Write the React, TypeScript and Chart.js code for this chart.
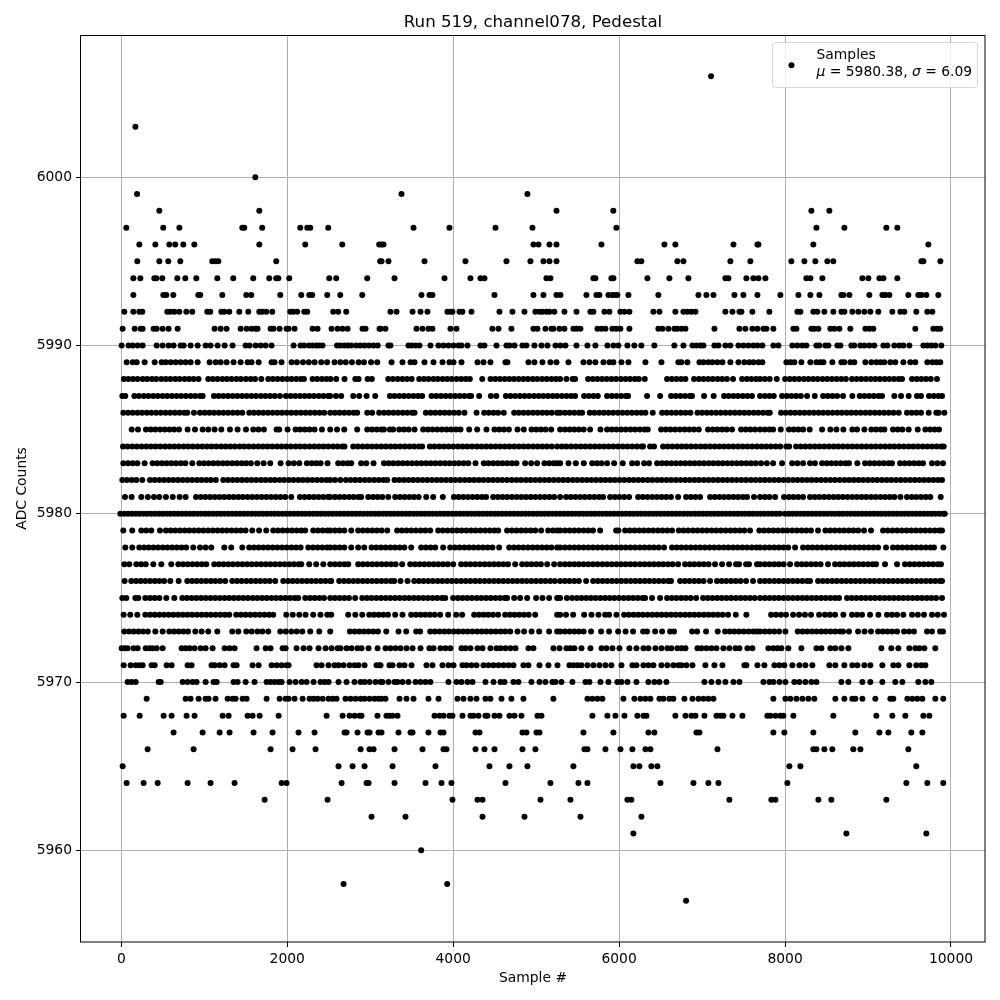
import React, { useEffect, useRef } from "react";
import { Chart, registerables } from "chart.js";

Chart.register(...registerables);

const TITLE = "Run 519, channel078, Pedestal";
const X_LABEL = "Sample #";
const Y_LABEL = "ADC Counts";
const X_TICKS = [0, 2000, 4000, 6000, 8000, 10000];
const Y_TICKS = [5960, 5970, 5980, 5990, 6000];

const s6006 = [7108];
const s6003 = [170];
const s6000 = [1615];
const s5999 = [190, 3377, 4895];
const s5998 = [458, 1663, 5245, 5930, 8317, 8534];
const s5997 = [60, 505, 700, 1458, 1482, 1698, 2157, 2241, 2277, 2494, 3522, 3955, 4510, 4955, 5967, 8378, 8715, 9221, 9353];
const s5996 = [217, 410, 578, 650, 747, 880, 1663, 2217, 2663, 3108, 3136, 3160, 4967, 5028, 5160, 5245, 5787, 6546, 6678, 7378, 7667, 7679, 8341, 9727];
const s5995 = [193, 458, 566, 711, 1096, 1133, 1169, 1867, 3120, 3136, 3220, 3654, 4148, 4642, 4931, 5088, 5160, 5245, 6220, 6268, 6702, 6775, 7341, 7582, 8076, 8233, 8365, 8510, 8582, 9643, 9667, 9872];
const s5994 = [145, 229, 398, 422, 494, 675, 771, 904, 1157, 1349, 1590, 1783, 1867, 1892, 2024, 2506, 2590, 2964, 3293, 3895, 4208, 4329, 4377, 5124, 5172, 5690, 5714, 5907, 5931, 6341, 6606, 6835, 7281, 7317, 7534, 7618, 7679, 7763, 8257, 8305, 8450, 8932, 9004, 9137, 9185, 9353];
const s5993 = [145, 506, 542, 627, 928, 952, 1217, 1506, 1566, 1916, 2169, 2265, 2301, 2482, 2639, 2904, 3618, 3714, 3750, 4498, 4967, 5088, 5245, 5293, 5606, 5726, 5762, 5871, 5919, 5955, 5979, 6112, 6473, 6956, 7052, 7137, 7390, 7498, 7667, 7944, 8161, 8305, 8414, 8679, 8703, 8775, 9016, 9173, 9209, 9257, 9486, 9606, 9643, 9703, 9847];
const s5992 = [36, 145, 217, 253, 554, 590, 639, 699, 783, 855, 1036, 1072, 1205, 1241, 1301, 1422, 1530, 1663, 1699, 1747, 1819, 2036, 2072, 2120, 2205, 2241, 2554, 2614, 2711, 3244, 3317, 3510, 3606, 3690, 3931, 3967, 3991, 4076, 4112, 4220, 4558, 4714, 4859, 4991, 5040, 5076, 5124, 5160, 5220, 5341, 5486, 5654, 5690, 5823, 5883, 6015, 6064, 6124, 6413, 6486, 6678, 6775, 6823, 6872, 6920, 7281, 7366, 7450, 7474, 7606, 7811, 8149, 8185, 8341, 8389, 8474, 8582, 8679, 8715, 8811, 8883, 8956, 9028, 9124, 9293, 9390, 9438, 9582, 9715, 9775];
const s5991 = [16, 161, 233, 257, 390, 426, 498, 570, 679, 1124, 1197, 1269, 1438, 1510, 1570, 1618, 1642, 1799, 1835, 1908, 1992, 2016, 2088, 2305, 2365, 2534, 2606, 2667, 2727, 2907, 2944, 3112, 3124, 3184, 3558, 3630, 3702, 3750, 3967, 4040, 4473, 4546, 4702, 4967, 5015, 5112, 5184, 5208, 5281, 5341, 5449, 5486, 5534, 5739, 5787, 5835, 5919, 5967, 6015, 6124, 6473, 6522, 6594, 6666, 6702, 6751, 6799, 7149, 7450, 7522, 7606, 7667, 7739, 7775, 7859, 8100, 8137, 8317, 8353, 8402, 8546, 8594, 8655, 8787, 8968, 9016, 9064, 9570, 9787, 9835, 9871];
const s5990 = [4, 88, 137, 197, 257, 426, 498, 570, 630, 715, 751, 835, 920, 1016, 1076, 1161, 1245, 1341, 1498, 1546, 1618, 1679, 1739, 1811, 2076, 2160, 2205, 2265, 2305, 2350, 2385, 2425, 2600, 2640, 2690, 2730, 2770, 2830, 2880, 2930, 2985, 3040, 3090, 3220, 3244, 3461, 3498, 3546, 3594, 3726, 3823, 3883, 3943, 4004, 4064, 4100, 4172, 4329, 4377, 4522, 4642, 4678, 4739, 4835, 4883, 4979, 5064, 5136, 5233, 5293, 5353, 5486, 5618, 5714, 5859, 5931, 5991, 6100, 6184, 6268, 6425, 6666, 6775, 6884, 6932, 6980, 7016, 7149, 7197, 7281, 7341, 7438, 7498, 7558, 7618, 7667, 7727, 7859, 7920, 8088, 8149, 8209, 8257, 8378, 8414, 8486, 8522, 8631, 8667, 8799, 8835, 8908, 8956, 9016, 9076, 9185, 9233, 9317, 9378, 9426, 9498, 9667, 9715, 9763, 9811, 9883];
const s5989 = [64, 137, 185, 281, 402, 486, 534, 594, 654, 715, 775, 835, 920, 1064, 1137, 1197, 1269, 1353, 1438, 1522, 1570, 1655, 1811, 1847, 1931, 2052, 2116, 2190, 2260, 2330, 2410, 2480, 2570, 2640, 2705, 2780, 2860, 2925, 3010, 3085, 3257, 3389, 3486, 3534, 3654, 3763, 3871, 3955, 4004, 4100, 4293, 4365, 4449, 4630, 4654, 4907, 4979, 5076, 5172, 5245, 5389, 5570, 5642, 5714, 5811, 5883, 5931, 6028, 6112, 6317, 6510, 6714, 6751, 6823, 6968, 7016, 7076, 7125, 7185, 7245, 7341, 7438, 7510, 7570, 7618, 7679, 7727, 8016, 8064, 8112, 8197, 8305, 8378, 8426, 8462, 8570, 8679, 8715, 8787, 8835, 8968, 9040, 9100, 9149, 9197, 9269, 9329, 9426, 9510, 9570, 9715, 9775, 9823, 9871];
const s5988 = [31, 84, 141, 196, 258, 312, 369, 421, 482, 536, 591, 649, 702, 763, 817, 872, 931, 1048, 1103, 1159, 1218, 1273, 1329, 1388, 1441, 1502, 1559, 1612, 1687, 1771, 1826, 1883, 1941, 1998, 2052, 2109, 2163, 2201, 2305, 2361, 2418, 2472, 2521, 2590, 2690, 2820, 2860, 2969, 3020, 3217, 3272, 3331, 3388, 3443, 3500, 3590, 3647, 3702, 3761, 3814, 3873, 3928, 3982, 4041, 4097, 4152, 4201, 4350, 4450, 4508, 4563, 4621, 4677, 4733, 4789, 4846, 4901, 4959, 5013, 5071, 5126, 5184, 5238, 5289, 5365, 5440, 5470, 5626, 5682, 5739, 5795, 5851, 5908, 5963, 6021, 6077, 6132, 6189, 6237, 6309, 6578, 6635, 6691, 6747, 6799, 6903, 6961, 7016, 7074, 7129, 7187, 7242, 7299, 7373, 7482, 7539, 7594, 7651, 7699, 7756, 7815, 7900, 8000, 8056, 8113, 8168, 8227, 8282, 8339, 8393, 8452, 8508, 8564, 8621, 8677, 8733, 8807, 8863, 8919, 8976, 9032, 9088, 9144, 9201, 9257, 9313, 9369, 9410, 9530, 9587, 9643, 9699, 9756, 9831];
const s5987 = [12, 48, 157, 213, 271, 326, 384, 438, 497, 552, 609, 666, 721, 779, 836, 891, 948, 980, 1116, 1173, 1229, 1286, 1342, 1399, 1455, 1511, 1568, 1624, 1681, 1737, 1793, 1850, 1912, 1984, 2041, 2097, 2153, 2209, 2266, 2322, 2379, 2435, 2491, 2518, 2587, 2650, 2795, 2867, 2956, 3060, 3237, 3293, 3351, 3408, 3464, 3521, 3577, 3626, 3739, 3796, 3852, 3909, 3965, 4022, 4078, 4135, 4191, 4217, 4313, 4454, 4520, 4635, 4691, 4748, 4804, 4861, 4917, 4974, 5030, 5087, 5143, 5200, 5253, 5310, 5367, 5423, 5470, 5578, 5634, 5691, 5743, 5855, 5912, 5968, 6025, 6081, 6108, 6337, 6494, 6626, 6682, 6739, 6795, 6852, 6879, 7024, 7140, 7265, 7321, 7378, 7434, 7491, 7547, 7602, 7699, 7756, 7812, 7864, 7964, 8021, 8077, 8134, 8190, 8265, 8358, 8458, 8515, 8571, 8628, 8699, 8811, 8900, 8957, 9013, 9070, 9126, 9169, 9317, 9398, 9490, 9590, 9639, 9735, 9792, 9848, 9892];
const s5986 = [24, 81, 137, 194, 250, 307, 363, 420, 476, 533, 589, 646, 702, 759, 795, 875, 948, 1005, 1061, 1118, 1174, 1231, 1287, 1344, 1400, 1458, 1542, 1598, 1655, 1711, 1768, 1824, 1881, 1937, 1994, 2050, 2107, 2163, 2220, 2276, 2333, 2389, 2446, 2518, 2575, 2631, 2688, 2744, 2801, 2843, 2964, 3024, 3108, 3165, 3221, 3278, 3334, 3391, 3447, 3504, 3534, 3671, 3727, 3784, 3840, 3897, 3953, 4010, 4066, 4136, 4281, 4373, 4429, 4486, 4542, 4610, 4735, 4791, 4848, 4904, 4961, 5017, 5074, 5130, 5187, 5253, 5289, 5346, 5402, 5459, 5515, 5554, 5646, 5702, 5759, 5815, 5872, 5928, 5985, 6041, 6098, 6154, 6211, 6267, 6317, 6405, 6518, 6574, 6631, 6687, 6744, 6800, 6859, 6944, 7000, 7057, 7113, 7170, 7226, 7283, 7339, 7396, 7452, 7509, 7565, 7622, 7678, 7735, 7791, 7816, 7952, 8008, 8065, 8121, 8178, 8234, 8291, 8347, 8404, 8460, 8517, 8573, 8630, 8686, 8743, 8799, 8856, 8912, 8969, 9025, 9082, 9138, 9195, 9251, 9308, 9370, 9470, 9526, 9583, 9639, 9731, 9823, 9851, 9920];
const s5985 = [125, 201, 297, 354, 410, 467, 523, 580, 636, 695, 799, 888, 980, 1048, 1124, 1205, 1309, 1401, 1502, 1590, 1652, 1719, 1871, 1903, 2004, 2100, 2156, 2213, 2269, 2329, 2418, 2518, 2600, 2687, 2843, 2964, 3021, 3077, 3134, 3165, 3237, 3277, 3350, 3407, 3463, 3534, 3638, 3695, 3751, 3808, 3864, 3921, 3977, 4034, 4088, 4193, 4289, 4401, 4498, 4555, 4611, 4671, 4775, 4851, 4944, 5001, 5057, 5114, 5181, 5289, 5346, 5402, 5459, 5515, 5572, 5650, 5775, 5855, 5912, 5968, 6025, 6081, 6138, 6194, 6251, 6307, 6345, 6506, 6563, 6619, 6676, 6732, 6789, 6845, 6902, 6960, 7072, 7129, 7185, 7242, 7298, 7361, 7470, 7527, 7583, 7640, 7699, 7756, 7812, 7856, 7948, 8048, 8105, 8161, 8218, 8297, 8446, 8546, 8619, 8703, 8811, 8868, 8956, 9040, 9097, 9153, 9197, 9301, 9358, 9414, 9490, 9599, 9691, 9748, 9804, 9856];
const s5984 = [20, 75, 132, 188, 245, 302, 356, 413, 469, 526, 581, 638, 694, 751, 806, 863, 919, 976, 1031, 1088, 1144, 1201, 1256, 1313, 1369, 1426, 1481, 1538, 1594, 1651, 1706, 1763, 1819, 1876, 1931, 1988, 2044, 2101, 2156, 2213, 2269, 2326, 2381, 2438, 2494, 2551, 2606, 2663, 2690, 2795, 2851, 2908, 2964, 3021, 3077, 3134, 3190, 3247, 3303, 3360, 3416, 3473, 3529, 3586, 3626, 3719, 3775, 3832, 3888, 3945, 4001, 4058, 4114, 4171, 4227, 4284, 4340, 4397, 4453, 4510, 4566, 4623, 4679, 4736, 4792, 4849, 4905, 4962, 5018, 5075, 5131, 5188, 5253, 5310, 5366, 5423, 5479, 5536, 5592, 5649, 5705, 5762, 5818, 5875, 5931, 5988, 6044, 6101, 6157, 6214, 6270, 6289, 6373, 6421, 6530, 6586, 6643, 6699, 6756, 6812, 6869, 6925, 6982, 7038, 7095, 7151, 7208, 7264, 7321, 7377, 7434, 7490, 7547, 7603, 7660, 7716, 7773, 7829, 7886, 7942, 8015, 8050, 8133, 8189, 8246, 8302, 8359, 8415, 8472, 8528, 8585, 8641, 8698, 8754, 8811, 8867, 8924, 8980, 9037, 9093, 9150, 9206, 9263, 9319, 9376, 9432, 9489, 9545, 9602, 9658, 9715, 9771, 9828, 9884, 9912];
const s5983 = [24, 81, 137, 194, 281, 377, 433, 490, 546, 603, 659, 716, 772, 855, 940, 997, 1053, 1110, 1166, 1223, 1279, 1336, 1392, 1449, 1505, 1562, 1639, 1715, 1795, 1920, 2016, 2080, 2145, 2237, 2294, 2350, 2402, 2486, 2614, 2671, 2727, 2771, 2891, 2952, 3040, 3165, 3222, 3278, 3335, 3391, 3448, 3504, 3561, 3617, 3674, 3730, 3787, 3843, 3900, 3956, 4013, 4069, 4126, 4182, 4269, 4369, 4426, 4482, 4539, 4595, 4652, 4708, 4763, 4867, 4940, 5012, 5100, 5157, 5213, 5253, 5289, 5390, 5478, 5574, 5675, 5732, 5788, 5855, 5940, 6044, 6156, 6217, 6301, 6361, 6458, 6515, 6571, 6628, 6684, 6741, 6797, 6854, 6910, 6967, 7023, 7080, 7136, 7193, 7249, 7306, 7362, 7419, 7475, 7532, 7588, 7645, 7710, 7780, 7856, 7964, 8085, 8150, 8217, 8301, 8361, 8446, 8503, 8559, 8616, 8672, 8729, 8771, 8872, 8964, 9021, 9077, 9134, 9190, 9247, 9289, 9386, 9443, 9499, 9556, 9612, 9663, 9771, 9837, 9904];
const s5982 = [12, 68, 125, 181, 253, 345, 401, 458, 514, 571, 627, 684, 740, 797, 853, 910, 966, 1023, 1079, 1140, 1229, 1285, 1342, 1398, 1455, 1511, 1568, 1624, 1681, 1737, 1794, 1850, 1907, 1963, 2020, 2076, 2133, 2189, 2246, 2302, 2359, 2415, 2472, 2518, 2575, 2640, 2707, 2763, 2820, 2876, 2933, 2989, 3046, 3102, 3159, 3205, 3293, 3349, 3406, 3462, 3519, 3575, 3632, 3688, 3745, 3801, 3858, 3914, 3971, 4027, 4084, 4140, 4197, 4253, 4310, 4366, 4423, 4479, 4536, 4592, 4649, 4705, 4762, 4818, 4875, 4931, 4988, 5044, 5101, 5157, 5214, 5270, 5327, 5383, 5440, 5496, 5553, 5609, 5666, 5722, 5779, 5835, 5892, 5948, 6005, 6061, 6118, 6174, 6231, 6287, 6344, 6400, 6457, 6513, 6570, 6626, 6683, 6739, 6796, 6852, 6909, 6965, 7022, 7078, 7135, 7191, 7248, 7304, 7361, 7417, 7474, 7530, 7587, 7643, 7699, 7755, 7812, 7868, 7925, 7981, 8038, 8094, 8151, 8207, 8264, 8320, 8377, 8433, 8490, 8546, 8603, 8659, 8716, 8772, 8829, 8885, 8942, 8998, 9055, 9111, 9168, 9224, 9281, 9337, 9394, 9450, 9507, 9563, 9620, 9676, 9733, 9789, 9846, 9892];
const s5981 = [44, 124, 241, 320, 394, 458, 538, 620, 703, 775, 900, 957, 1013, 1070, 1126, 1183, 1239, 1296, 1352, 1409, 1465, 1522, 1578, 1635, 1691, 1748, 1804, 1861, 1917, 1974, 2048, 2152, 2209, 2265, 2322, 2378, 2435, 2491, 2518, 2575, 2631, 2688, 2744, 2801, 2857, 2891, 2976, 3033, 3089, 3146, 3217, 3301, 3358, 3414, 3471, 3527, 3584, 3675, 3759, 3875, 4008, 4065, 4121, 4178, 4234, 4291, 4347, 4397, 4482, 4539, 4595, 4652, 4708, 4765, 4821, 4878, 4934, 4991, 5047, 5104, 5160, 5217, 5289, 5361, 5418, 5474, 5531, 5587, 5644, 5700, 5757, 5807, 5891, 5948, 6004, 6061, 6120, 6229, 6286, 6342, 6399, 6455, 6512, 6568, 6625, 6711, 6807, 6864, 6920, 6976, 7096, 7153, 7209, 7266, 7322, 7379, 7435, 7492, 7542, 7626, 7699, 7756, 7812, 7880, 7988, 8045, 8101, 8158, 8217, 8301, 8358, 8414, 8471, 8527, 8584, 8640, 8697, 8753, 8810, 8866, 8923, 8979, 9036, 9092, 9149, 9205, 9262, 9318, 9390, 9470, 9527, 9583, 9640, 9696, 9751, 9876];
const s5980 = [-12, 34, 81, 127, 174, 220, 267, 313, 360, 406, 453, 499, 546, 592, 639, 685, 732, 778, 825, 871, 918, 964, 1011, 1057, 1104, 1150, 1197, 1243, 1290, 1336, 1383, 1429, 1476, 1522, 1569, 1615, 1662, 1708, 1755, 1801, 1848, 1894, 1941, 1987, 2034, 2080, 2127, 2173, 2220, 2266, 2313, 2359, 2406, 2452, 2499, 2545, 2592, 2638, 2685, 2731, 2778, 2824, 2871, 2917, 2964, 3010, 3057, 3103, 3150, 3196, 3243, 3289, 3336, 3382, 3429, 3475, 3522, 3568, 3615, 3661, 3708, 3754, 3801, 3847, 3894, 3940, 3987, 4033, 4080, 4126, 4173, 4219, 4266, 4312, 4359, 4405, 4452, 4498, 4545, 4591, 4638, 4684, 4731, 4777, 4824, 4870, 4917, 4963, 5010, 5056, 5103, 5149, 5196, 5242, 5289, 5335, 5382, 5428, 5475, 5521, 5568, 5614, 5661, 5707, 5754, 5800, 5847, 5893, 5940, 5986, 6033, 6079, 6126, 6172, 6219, 6265, 6312, 6358, 6405, 6451, 6498, 6544, 6591, 6637, 6684, 6730, 6777, 6823, 6870, 6916, 6963, 7009, 7056, 7102, 7149, 7195, 7242, 7288, 7335, 7381, 7428, 7474, 7521, 7567, 7614, 7660, 7707, 7753, 7800, 7846, 7893, 7939, 8000, 8046, 8093, 8139, 8186, 8232, 8279, 8325, 8372, 8418, 8465, 8511, 8558, 8604, 8651, 8697, 8744, 8790, 8837, 8883, 8930, 8976, 9023, 9069, 9116, 9162, 9209, 9255, 9302, 9348, 9395, 9441, 9488, 9534, 9581, 9627, 9674, 9720, 9767, 9813, 9860, 9906, 9925];
const s5979 = [24, 132, 241, 300, 361, 466, 538, 594, 651, 707, 764, 820, 877, 933, 990, 1046, 1103, 1159, 1216, 1272, 1329, 1385, 1442, 1498, 1578, 1660, 1747, 1831, 1888, 1944, 2001, 2057, 2114, 2170, 2217, 2313, 2370, 2426, 2483, 2518, 2575, 2631, 2688, 2771, 2855, 2912, 2968, 3025, 3081, 3138, 3205, 3325, 3382, 3438, 3495, 3551, 3608, 3664, 3723, 3819, 3876, 3932, 3989, 4045, 4102, 4158, 4215, 4271, 4328, 4384, 4441, 4497, 4542, 4650, 4707, 4763, 4820, 4876, 4933, 4989, 5060, 5145, 5202, 5253, 5289, 5346, 5402, 5459, 5515, 5572, 5628, 5685, 5771, 5964, 5992, 6072, 6129, 6185, 6242, 6298, 6355, 6411, 6468, 6524, 6581, 6638, 6719, 6776, 6832, 6889, 6945, 7002, 7058, 7115, 7171, 7228, 7284, 7341, 7397, 7454, 7510, 7578, 7690, 7747, 7803, 7860, 7916, 7973, 8029, 8086, 8142, 8199, 8255, 8312, 8398, 8486, 8543, 8599, 8656, 8712, 8769, 8825, 8882, 8952, 9036, 9181, 9238, 9294, 9351, 9407, 9464, 9520, 9577, 9633, 9690, 9746, 9803, 9859, 9892];
const s5978 = [48, 132, 217, 274, 330, 387, 443, 500, 556, 613, 669, 726, 782, 867, 948, 1016, 1084, 1241, 1325, 1458, 1542, 1599, 1655, 1712, 1768, 1825, 1881, 1938, 1994, 2051, 2107, 2161, 2253, 2310, 2366, 2423, 2479, 2518, 2575, 2631, 2688, 2771, 2855, 2928, 3016, 3073, 3129, 3186, 3242, 3299, 3355, 3412, 3494, 3614, 3671, 3727, 3784, 3879, 3964, 4021, 4077, 4134, 4190, 4247, 4303, 4360, 4416, 4473, 4554, 4675, 4732, 4788, 4845, 4901, 4958, 5014, 5071, 5127, 5184, 5253, 5289, 5346, 5402, 5459, 5515, 5572, 5628, 5685, 5741, 5798, 5854, 5911, 5967, 6024, 6080, 6137, 6193, 6250, 6306, 6363, 6419, 6476, 6542, 6638, 6695, 6751, 6808, 6864, 6921, 6977, 7034, 7090, 7147, 7203, 7260, 7316, 7373, 7429, 7486, 7542, 7599, 7655, 7699, 7756, 7812, 7869, 7925, 7982, 8038, 8121, 8217, 8274, 8330, 8387, 8443, 8500, 8556, 8613, 8669, 8726, 8782, 8839, 8895, 8952, 9008, 9065, 9121, 9217, 9301, 9358, 9414, 9471, 9527, 9584, 9640, 9697, 9753, 9795, 9908];
const s5977 = [36, 96, 181, 238, 294, 386, 482, 602, 687, 744, 800, 857, 913, 970, 1024, 1120, 1177, 1233, 1290, 1346, 1403, 1459, 1516, 1572, 1629, 1685, 1742, 1798, 1855, 1911, 1968, 2024, 2081, 2137, 2169, 2265, 2349, 2434, 2518, 2575, 2631, 2688, 2735, 2855, 2912, 2968, 3025, 3081, 3138, 3194, 3251, 3307, 3385, 3482, 3539, 3595, 3652, 3708, 3765, 3821, 3878, 3934, 4000, 4096, 4153, 4209, 4266, 4322, 4379, 4435, 4492, 4548, 4605, 4661, 4747, 4831, 4888, 4944, 5001, 5057, 5133, 5217, 5289, 5346, 5402, 5459, 5515, 5572, 5628, 5685, 5741, 5798, 5854, 5911, 5967, 6024, 6080, 6137, 6193, 6250, 6306, 6363, 6419, 6476, 6532, 6589, 6645, 6711, 6795, 6852, 6908, 6965, 7021, 7078, 7156, 7241, 7325, 7409, 7446, 7530, 7566, 7662, 7699, 7756, 7812, 7869, 7925, 7982, 8060, 8145, 8202, 8258, 8315, 8371, 8428, 8518, 8603, 8660, 8716, 8773, 8829, 8886, 8942, 8999, 9055, 9097, 9205, 9350, 9446, 9503, 9559, 9616, 9672, 9729, 9785, 9842, 9880];
const s5976 = [40, 120, 177, 233, 290, 346, 403, 459, 516, 590, 691, 795, 852, 908, 965, 1021, 1078, 1134, 1191, 1253, 1337, 1394, 1450, 1507, 1563, 1620, 1676, 1733, 1789, 1855, 1952, 2009, 2065, 2122, 2178, 2235, 2291, 2348, 2404, 2461, 2518, 2530, 2626, 2683, 2739, 2796, 2852, 2909, 2965, 3022, 3078, 3135, 3191, 3248, 3289, 3365, 3450, 3530, 3587, 3643, 3700, 3756, 3813, 3869, 3926, 3982, 4039, 4095, 4152, 4208, 4265, 4321, 4378, 4434, 4491, 4547, 4604, 4660, 4717, 4773, 4830, 4886, 4943, 4999, 5056, 5112, 5169, 5225, 5289, 5346, 5402, 5459, 5515, 5602, 5687, 5744, 5800, 5857, 5913, 5970, 6026, 6083, 6139, 6196, 6252, 6309, 6365, 6422, 6478, 6535, 6591, 6626, 6735, 6792, 6848, 6905, 6961, 7018, 7096, 7180, 7237, 7293, 7350, 7406, 7463, 7530, 7614, 7699, 7756, 7812, 7869, 7925, 7982, 8038, 8095, 8151, 8208, 8264, 8301, 8398, 8455, 8511, 8568, 8624, 8681, 8737, 8794, 8850, 8907, 8963, 9020, 9076, 9133, 9189, 9246, 9302, 9359, 9415, 9472, 9528, 9585, 9641, 9698, 9754, 9811, 9867, 9892];
const s5975 = [12, 60, 169, 205, 289, 346, 402, 459, 542, 639, 735, 792, 848, 905, 961, 1018, 1074, 1131, 1187, 1244, 1300, 1357, 1413, 1470, 1526, 1583, 1639, 1696, 1752, 1809, 1865, 1922, 1978, 2035, 2091, 2132, 2217, 2274, 2330, 2387, 2443, 2518, 2575, 2631, 2688, 2744, 2819, 2904, 2961, 3017, 3074, 3130, 3187, 3243, 3300, 3356, 3413, 3469, 3526, 3582, 3639, 3695, 3752, 3808, 3865, 3904, 4000, 4057, 4113, 4170, 4226, 4283, 4339, 4396, 4452, 4509, 4565, 4622, 4650, 4735, 4807, 4891, 5000, 5076, 5156, 5253, 5289, 5370, 5434, 5491, 5547, 5604, 5660, 5717, 5773, 5830, 5886, 5943, 5999, 6056, 6112, 6169, 6225, 6282, 6313, 6397, 6494, 6578, 6635, 6691, 6748, 6804, 6861, 6928, 7012, 7069, 7125, 7182, 7238, 7295, 7351, 7408, 7464, 7521, 7577, 7634, 7699, 7756, 7812, 7869, 7925, 7982, 8038, 8095, 8151, 8208, 8264, 8321, 8377, 8434, 8490, 8547, 8603, 8651, 8747, 8804, 8860, 8917, 8973, 9030, 9086, 9143, 9199, 9256, 9312, 9369, 9425, 9482, 9538, 9595, 9651, 9708, 9764, 9821, 9892];
const s5974 = [28, 108, 193, 289, 346, 402, 459, 515, 572, 628, 685, 741, 798, 854, 911, 967, 1024, 1080, 1137, 1193, 1250, 1301, 1385, 1442, 1498, 1555, 1611, 1668, 1724, 1781, 1831, 1988, 2066, 2145, 2221, 2313, 2400, 2482, 2530, 2735, 2820, 2904, 2988, 3045, 3101, 3158, 3214, 3301, 3389, 3494, 3551, 3607, 3664, 3720, 3777, 3843, 3940, 4036, 4108, 4253, 4310, 4366, 4423, 4479, 4542, 4626, 4683, 4739, 4796, 4852, 4909, 4988, 5253, 5289, 5360, 5446, 5578, 5667, 5751, 5831, 5879, 5968, 6060, 6117, 6173, 6230, 6286, 6343, 6399, 6456, 6512, 6569, 6625, 6682, 6738, 6795, 6851, 6908, 6964, 7021, 7077, 7134, 7190, 7247, 7313, 7406, 7534, 7832, 7890, 7950, 8012, 8097, 8170, 8240, 8313, 8410, 8480, 8540, 8603, 8703, 8807, 8868, 8928, 9024, 9125, 9229, 9290, 9350, 9426, 9530, 9600, 9675, 9771, 9840, 9916];
const s5973 = [36, 93, 149, 206, 262, 319, 410, 498, 578, 635, 691, 748, 804, 892, 968, 1048, 1157, 1337, 1410, 1506, 1571, 1640, 1700, 1771, 1916, 1983, 2050, 2115, 2181, 2277, 2386, 2518, 2755, 2812, 2868, 2925, 2981, 3038, 3094, 3193, 3341, 3434, 3554, 3602, 3723, 3780, 3836, 3893, 3949, 4006, 4062, 4119, 4175, 4232, 4288, 4345, 4401, 4458, 4514, 4571, 4627, 4687, 4775, 4855, 4945, 5036, 5156, 5253, 5289, 5346, 5402, 5459, 5515, 5572, 5662, 5783, 5879, 5988, 6078, 6168, 6289, 6337, 6434, 6518, 6614, 6662, 6879, 6940, 7048, 7189, 7277, 7334, 7390, 7447, 7503, 7560, 7616, 7662, 7699, 7756, 7812, 7869, 7928, 8004, 8153, 8210, 8266, 8323, 8379, 8436, 8492, 8549, 8605, 8662, 8699, 8771, 8880, 8958, 9036, 9121, 9178, 9234, 9291, 9350, 9434, 9494, 9554, 9711, 9771, 9868, 9904];
const s5972 = [4, 40, 76, 148, 197, 293, 341, 377, 426, 498, 727, 775, 823, 883, 956, 1016, 1100, 1245, 1305, 1365, 1630, 1739, 1799, 1944, 1980, 2112, 2197, 2269, 2377, 2462, 2534, 2606, 2642, 2715, 2775, 2847, 2895, 2980, 3088, 3184, 3244, 3305, 3365, 3437, 3510, 3606, 3714, 3763, 3847, 3907, 3967, 4100, 4148, 4208, 4293, 4353, 4449, 4522, 4570, 4630, 4690, 4751, 4907, 4967, 5208, 5281, 5365, 5413, 5461, 5546, 5654, 5787, 5847, 5919, 6004, 6124, 6209, 6293, 6353, 6437, 6510, 6582, 6630, 6702, 6751, 6799, 6944, 6992, 7052, 7112, 7173, 7257, 7329, 7402, 7450, 7546, 7606, 7799, 7859, 7908, 7956, 8040, 8197, 8378, 8438, 8546, 8606, 8679, 8763, 9161, 9281, 9366, 9498, 9570, 9618, 9679, 9811];
const s5971 = [28, 112, 173, 221, 257, 365, 402, 546, 606, 799, 847, 1088, 1124, 1185, 1245, 1353, 1390, 1582, 1655, 1811, 1871, 1932, 1992, 2016, 2353, 2414, 2498, 2570, 2618, 2679, 2751, 2811, 2859, 2932, 3076, 3112, 3124, 3232, 3269, 3353, 3413, 3498, 3678, 3750, 3871, 3943, 4004, 4112, 4160, 4220, 4281, 4365, 4425, 4486, 4546, 4606, 4666, 4726, 4847, 4907, 5040, 5148, 5257, 5401, 5449, 5498, 5546, 5618, 5690, 5763, 5835, 5907, 6028, 6160, 6209, 6293, 6353, 6413, 6510, 6582, 6654, 6714, 6751, 6811, 6884, 7040, 7149, 7245, 7510, 7534, 7667, 7751, 7872, 7932, 7992, 8088, 8173, 8245, 8329, 8534, 8606, 8715, 8811, 8872, 8956, 9028, 9173, 9305, 9366, 9498, 9582, 9643, 9691];
const s5970 = [76, 124, 173, 450, 474, 739, 799, 859, 907, 1016, 1112, 1149, 1353, 1401, 1498, 1606, 1751, 1799, 1847, 1896, 1932, 2028, 2100, 2173, 2233, 2317, 2401, 2450, 2498, 2618, 2715, 2811, 2884, 2932, 2992, 3064, 3124, 3148, 3220, 3293, 3329, 3389, 3461, 3546, 3606, 3666, 3726, 3943, 4040, 4100, 4172, 4233, 4389, 4486, 4570, 4618, 4726, 4787, 4943, 5040, 5112, 5196, 5233, 5305, 5437, 5594, 5642, 5775, 5871, 5979, 6028, 6100, 6209, 6353, 6425, 6486, 6570, 7028, 7112, 7197, 7281, 7378, 7450, 7739, 7811, 7859, 7932, 8004, 8112, 8173, 8245, 8317, 8378, 8679, 8763, 8932, 9028, 9173, 9329, 9414, 9606, 9691, 9763];
const s5969 = [305, 775, 835, 932, 1016, 1052, 1136, 1281, 1341, 1377, 1462, 1510, 1751, 1908, 1980, 2016, 2088, 2185, 2269, 2317, 2365, 2426, 2498, 2546, 2594, 2702, 2763, 2823, 2884, 2932, 2992, 3052, 3100, 3136, 3184, 3353, 3437, 3522, 3702, 3823, 4052, 4124, 4208, 4281, 4389, 4449, 4582, 4702, 4847, 5208, 5618, 5678, 5739, 5799, 6052, 6184, 6257, 6317, 6377, 6486, 6534, 6606, 6654, 6787, 6884, 6956, 7016, 7076, 7137, 7859, 8004, 8064, 8137, 8209, 8281, 8353, 8606, 8715, 8811, 8847, 8932, 9088, 9269, 9305, 9474, 9534, 9594, 9655, 9811, 9907];
const s5968 = [28, 221, 510, 606, 787, 883, 1221, 1293, 1522, 1582, 1667, 1896, 2474, 2667, 2751, 2811, 2871, 2895, 3088, 3196, 3232, 3269, 3329, 3775, 3835, 3883, 3955, 3991, 4112, 4208, 4245, 4305, 4389, 4413, 4498, 4558, 4678, 4739, 4823, 5016, 5064, 5678, 5859, 5955, 6064, 6220, 6293, 6329, 6678, 6799, 6872, 6920, 7028, 7173, 7221, 7257, 7366, 7486, 7787, 7823, 7884, 7944, 7980, 8100, 8582, 9100, 9293, 9450, 9667, 9739];
const s5967 = [630, 980, 1185, 1305, 1594, 1823, 2136, 2329, 2691, 2715, 2847, 2968, 2992, 3100, 3136, 3341, 3486, 3510, 3702, 3847, 3883, 4269, 4317, 4835, 4883, 5004, 5040, 5570, 5931, 6353, 6425, 6932, 6968, 7859, 7992, 8341, 8847, 9137, 9245, 9522, 9655];
const s5966 = [317, 871, 1799, 2064, 2341, 2884, 2992, 3040, 3293, 3630, 3883, 3919, 4269, 4377, 4498, 4835, 4991, 5582, 5618, 5835, 6016, 6160, 6317, 6377, 7185, 8341, 8378, 8474, 8570, 8823, 8908, 9486];
const s5965 = [16, 2618, 2787, 2932, 3269, 3787, 4437, 4678, 4895, 5449, 6172, 6244, 6389, 6461, 8052, 8185, 9582];
const s5964 = [64, 269, 438, 799, 1076, 1365, 1932, 1992, 2655, 2956, 2980, 3293, 3666, 3859, 3979, 4630, 5172, 5510, 5618, 6498, 6896, 7076, 7197, 8028, 9462, 9715, 9907];
const s5963 = [1727, 2486, 3991, 4293, 4353, 5052, 5413, 6100, 6148, 7329, 7835, 7884, 8402, 8558, 9221];
const s5962 = [3016, 3425, 4353, 4859, 5534, 6269];
const s5961 = [6172, 8739, 9703];
const s5960 = [3614];
const s5958 = [2679, 3928];
const s5957 = [6807];

const LEVELS: [number, number[]][] = [
  [6006, s6006], [6003, s6003], [6000, s6000], [5999, s5999], [5998, s5998], [5997, s5997], [5996, s5996], [5995, s5995],
  [5994, s5994], [5993, s5993], [5992, s5992], [5991, s5991], [5990, s5990], [5989, s5989], [5988, s5988], [5987, s5987],
  [5986, s5986], [5985, s5985], [5984, s5984], [5983, s5983], [5982, s5982], [5981, s5981], [5980, s5980], [5979, s5979],
  [5978, s5978], [5977, s5977], [5976, s5976], [5975, s5975], [5974, s5974], [5973, s5973], [5972, s5972], [5971, s5971],
  [5970, s5970], [5969, s5969], [5968, s5968], [5967, s5967], [5966, s5966], [5965, s5965], [5964, s5964], [5963, s5963],
  [5962, s5962], [5961, s5961], [5960, s5960], [5958, s5958], [5957, s5957],
];

const FONT = '"DejaVu Sans"';

const framePlugin = {
  id: "frameAndLegend",
  afterDraw(chart: any) {
    const { ctx } = chart;
    ctx.save();
    ctx.strokeStyle = "#000";
    ctx.lineWidth = 1;
    ctx.strokeRect(80.5, 35.5, 904.5, 906.5);

    const bx = 772.5, by = 42.5, bw = 205, bh = 45, r = 3;
    ctx.beginPath();
    ctx.roundRect(bx, by, bw, bh, r);
    ctx.fillStyle = "rgba(255,255,255,0.8)";
    ctx.fill();
    ctx.strokeStyle = "rgba(204,204,204,0.8)";
    ctx.lineWidth = 1;
    ctx.stroke();

    ctx.fillStyle = "#000";
    ctx.beginPath();
    ctx.arc(791.5, 65.3, 3, 0, Math.PI * 2);
    ctx.fill();

    ctx.textBaseline = "alphabetic";
    ctx.textAlign = "left";
    ctx.font = `13.89px ${FONT}`;
    ctx.fillText("Samples", 816.5, 59);
    let x = 816.5;
    const parts: [string, boolean][] = [["μ", true], [" = 5980.38, ", false], ["σ", true], [" = 6.09", false]];
    for (const [t, it] of parts) {
      ctx.font = `${it ? "italic " : ""}13.89px ${FONT}`;
      ctx.fillText(t, x, 76);
      x += ctx.measureText(t).width;
    }
    ctx.restore();
  },
};

export default function App() {
  const ref = useRef<HTMLCanvasElement>(null);
  useEffect(() => {
    const points = LEVELS.flatMap(([y, xs]) => xs.map((x) => ({ x, y })));
    const chart = new Chart(ref.current!, {
      type: "scatter",
      data: {
        datasets: [
          {
            label: "Samples",
            data: points,
            pointRadius: 3,
            pointBorderWidth: 0,
            pointBackgroundColor: "#000",
            pointHoverRadius: 3,
          },
        ],
      },
      options: {
        animation: false,
        responsive: false,
        layout: { padding: { left: 0, right: 15, top: 0, bottom: 0 } },
        plugins: {
          legend: { display: false },
          tooltip: { enabled: false },
          title: {
            display: true,
            fullSize: false,
            text: TITLE,
            color: "#000",
            font: { family: FONT, size: 16.67, weight: "normal", lineHeight: 1.2 },
            padding: { top: 13, bottom: 2 },
          },
        },
        scales: {
          x: {
            type: "linear",
            min: -486,
            max: 10410,
            afterFit: (s: any) => { s.height = 58; },
            afterBuildTicks: (s: any) => { s.ticks = X_TICKS.map((value) => ({ value })); },
            title: { display: true, text: X_LABEL, color: "#000", font: { family: FONT, size: 13.89 }, padding: { top: 7, bottom: 13 } },
            ticks: { color: "#000", font: { family: FONT, size: 13.89 }, maxRotation: 0, padding: 4, callback: (v: any) => String(v) },
            grid: { color: "#b0b0b0", lineWidth: 1, tickColor: "#000", tickLength: 5 },
            border: { display: false },
          },
          y: {
            type: "linear",
            min: 5954.55,
            max: 6008.45,
            afterFit: (s: any) => { s.width = 81; },
            afterBuildTicks: (s: any) => { s.ticks = Y_TICKS.map((value) => ({ value })); },
            title: { display: true, text: Y_LABEL, color: "#000", font: { family: FONT, size: 13.89 }, padding: { top: 14, bottom: 0 } },
            ticks: { color: "#000", font: { family: FONT, size: 13.89 }, padding: 4, callback: (v: any) => String(v) },
            grid: { color: "#b0b0b0", lineWidth: 1, tickColor: "#000", tickLength: 5 },
            border: { display: false },
          },
        },
      },
      plugins: [framePlugin],
    });
    return () => chart.destroy();
  }, []);
  return <canvas ref={ref} width={1000} height={1000} style={{ position: "absolute", left: 0, top: 0, display: "block" }} />;
}
